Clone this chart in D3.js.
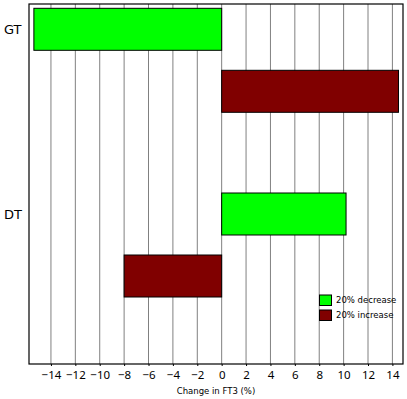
<!DOCTYPE html>
<html>
<head>
<meta charset="utf-8">
<script src="https://cdn.jsdelivr.net/npm/d3@7"></script>
<style>
body{margin:0;background:#fff;}
svg{display:block;}
text{font-family:"DejaVu Sans",sans-serif;}
</style>
</head>
<body>
<script>
// data
var categories=["GT","DT"];
var seriesNames=["20% decrease","20% increase"];
var seriesColors=["#00ff00","#800000"];
var decreaseValues=[-15.4,10.2];
var increaseValues=[14.5,-8.0];
var xTicks=[-14,-12,-10,-8,-6,-4,-2,0,2,4,6,8,10,12,14];

var width=407,height=399;
var frame={left:29,right:403,top:4,bottom:364};

var svg=d3.select("body").append("svg")
	.attr("width",width)
	.attr("height",height);

var x=d3.scaleLinear().domain([-15.8,14.87]).range([frame.left,frame.right]);
var y=d3.scaleBand().domain(categories).range([8.3,377.7]).padding(0);
var ySub=d3.scaleBand().domain(seriesNames).range([0,104]).paddingInner(0.3226);

//grid lines
svg.append("g")
	.selectAll("line")
	.data(xTicks)
	.enter().append("line")
		.attr("x1",function(d){return x(d);})
		.attr("x2",function(d){return x(d);})
		.attr("y1",frame.top)
		.attr("y2",frame.bottom)
		.attr("stroke","#808080")
		.attr("stroke-width",1);

//bars
var rows=[];
categories.forEach(function(c,i){
	rows.push({cat:c,series:seriesNames[0],value:decreaseValues[i],color:seriesColors[0]});
	rows.push({cat:c,series:seriesNames[1],value:increaseValues[i],color:seriesColors[1]});
});
svg.append("g")
	.selectAll("rect")
	.data(rows)
	.enter().append("rect")
		.attr("x",function(d){return x(Math.min(0,d.value));})
		.attr("width",function(d){return Math.abs(x(d.value)-x(0));})
		.attr("y",function(d){return y(d.cat)+ySub(d.series);})
		.attr("height",ySub.bandwidth())
		.attr("fill",function(d){return d.color;})
		.attr("stroke","#000")
		.attr("stroke-width",1);

//frame
svg.append("rect")
	.attr("x",frame.left)
	.attr("y",frame.top)
	.attr("width",frame.right-frame.left)
	.attr("height",frame.bottom-frame.top)
	.attr("fill","none")
	.attr("stroke","#000")
	.attr("stroke-width",1.2);

//x axis: short ticks below the frame + labels
var xAxis=d3.axisBottom(x).tickValues(xTicks).tickSize(2).tickPadding(5)
	.tickFormat(function(d){return d<0?"\u2212"+Math.abs(d):String(d);});
var gx=svg.append("g").attr("transform","translate(0,"+frame.bottom+")").call(xAxis);
gx.select(".domain").remove();
gx.selectAll("line").attr("stroke","#000");
gx.selectAll("text")
	.attr("fill","#000")
	.style("font-family","'Noto Sans',sans-serif")
	.style("font-size","11.5px");

svg.append("text")
	.attr("x",(frame.left+frame.right)/2)
	.attr("y",394)
	.attr("text-anchor","middle")
	.attr("font-size",8.5)
	.text("Change in FT3 (%)");

//category labels, aligned with first bar of the group
svg.append("g")
	.selectAll("text")
	.data(categories)
	.enter().append("text")
		.attr("x",4)
		.attr("y",function(d){return y(d)+ySub(seriesNames[0])+ySub.bandwidth()/2;})
		.attr("dy","0.35em")
		.attr("font-size",13)
		.text(function(d){return d;});

//legend
var legend=svg.append("g").attr("transform","translate(319.5,295)");
seriesNames.forEach(function(s,i){
	legend.append("rect")
		.attr("x",0)
		.attr("y",i*15)
		.attr("width",12)
		.attr("height",10.5)
		.attr("fill",seriesColors[i])
		.attr("stroke","#000")
		.attr("stroke-width",1);
	legend.append("text")
		.attr("x",16.5)
		.attr("y",i*15+5.5)
		.attr("dy","0.35em")
		.attr("font-size",8.5)
		.text(s);
});
</script>
</body>
</html>
